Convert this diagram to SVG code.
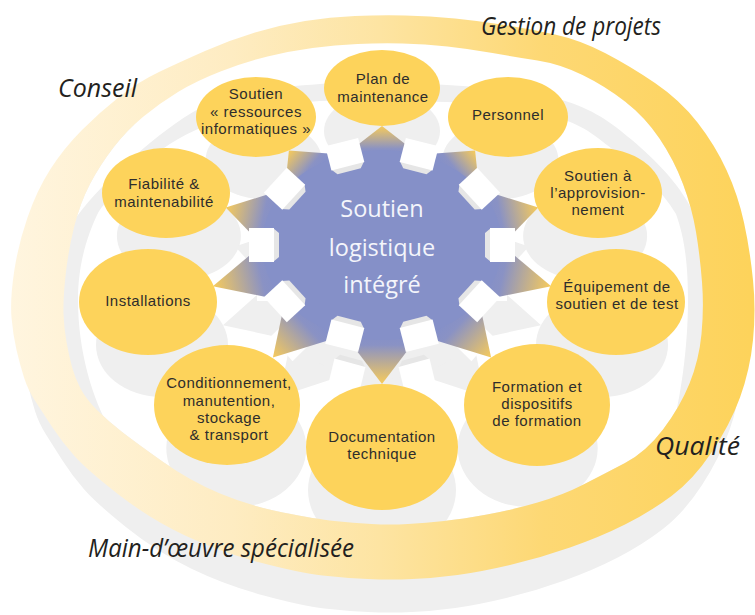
<svg xmlns="http://www.w3.org/2000/svg" width="755" height="615" viewBox="0 0 755 615">
<style>
.sh{fill:#efefef}
.nd{fill:#fdd35b}
.t{font-family:"Liberation Sans",Arial,sans-serif;font-size:15px;letter-spacing:0.5px;fill:#2e2d2c;text-anchor:middle}
.it{font-family:"Open Sans","Noto Sans","DejaVu Sans",sans-serif;font-style:italic;font-size:25px;fill:#231f20}
.c{font-family:"Open Sans","Noto Sans","DejaVu Sans",sans-serif;font-size:23.5px;fill:#f4f5fb;text-anchor:middle}
</style>
<defs>
<linearGradient id="ringGrad" gradientUnits="userSpaceOnUse" x1="10" y1="0" x2="750" y2="0">
<stop offset="0" stop-color="#fff5df"/>
<stop offset="0.3" stop-color="#feecc2"/>
<stop offset="0.5" stop-color="#fde4a2"/>
<stop offset="0.72" stop-color="#fdd874"/>
<stop offset="1" stop-color="#fdd35b"/>
</linearGradient>
<linearGradient id="gBase" gradientUnits="userSpaceOnUse">
<stop offset="0" stop-color="#8590c8"/>
<stop offset="0.2" stop-color="#8a92c4"/>
<stop offset="1" stop-color="#f7cb5b"/>
</linearGradient>
<linearGradient id="g0" href="#gBase" gradientUnits="userSpaceOnUse" x1="382" y1="154.7" x2="382" y2="126"/>
<linearGradient id="g1" href="#gBase" gradientUnits="userSpaceOnUse" x1="449.1" y1="171.9" x2="475.1" y2="150.4"/>
<linearGradient id="g2" href="#gBase" gradientUnits="userSpaceOnUse" x1="490.5" y1="217" x2="538.3" y2="207.4"/>
<linearGradient id="g3" href="#gBase" gradientUnits="userSpaceOnUse" x1="490.5" y1="273" x2="551.2" y2="286.2"/>
<linearGradient id="g4" href="#gBase" gradientUnits="userSpaceOnUse" x1="449.1" y1="318.1" x2="491.1" y2="357.6"/>
<linearGradient id="g5" href="#gBase" gradientUnits="userSpaceOnUse" x1="382" y1="335.3" x2="382" y2="384"/>
<linearGradient id="g6" href="#gBase" gradientUnits="userSpaceOnUse" x1="314.9" y1="318.1" x2="272.9" y2="357.6"/>
<linearGradient id="g7" href="#gBase" gradientUnits="userSpaceOnUse" x1="273.5" y1="273" x2="212.8" y2="286.2"/>
<linearGradient id="g8" href="#gBase" gradientUnits="userSpaceOnUse" x1="273.5" y1="217" x2="225.7" y2="207.4"/>
<linearGradient id="g9" href="#gBase" gradientUnits="userSpaceOnUse" x1="314.9" y1="171.9" x2="288.9" y2="150.4"/>
<path id="outerP" d="M11.5 317.5 Q10 300 14 272.5 Q18 245 27.5 217.5 Q37 190 50.5 169 Q64 148 82 130 Q100 112 119 97 Q138 82 159 72 Q180 62 205 51 Q230 40 255 32.5 Q280 25 305 21 Q330 17 355 16 Q380 15 405 15.5 Q430 16 455 18.5 Q480 21 505 25 Q530 29 555 34.5 Q580 40 605 53 Q630 66 655 83 Q680 100 697.5 122.5 Q715 145 726.5 170 Q738 195 744 222.5 Q750 250 753 280 Q756 310 753 340 Q750 370 740 397.5 Q730 425 711.5 452.5 Q693 480 671.5 496 Q650 512 625 524.5 Q600 537 570 547.5 Q540 558 510 565 Q480 572 457.5 575 Q435 578 412.5 579 Q390 580 367.5 579 Q345 578 322.5 575.5 Q300 573 260 562.5 Q220 552 185 535.5 Q150 519 118.5 494.5 Q87 470 74.5 456 Q62 442 52.5 427.5 Q43 413 35.5 401.5 Q28 390 24 377.5 Q20 365 16.5 350 Q13 335 11.5 317.5 Z"/>
<path id="innerP" d="M63.5 314 Q63 300 65.5 276 Q68 252 74 227.5 Q80 203 90 184 Q100 165 113.5 147.5 Q127 130 143.5 116.5 Q160 103 178 92 Q196 81 220.5 71.5 Q245 62 267.5 56.5 Q290 51 312.5 48 Q335 45 357.5 44 Q380 43 402.5 43.5 Q425 44 447.5 46.5 Q470 49 492.5 53 Q515 57 537.5 60.5 Q560 64 582.5 75 Q605 86 625 101.5 Q645 117 659.5 138.5 Q674 160 683 184 Q692 208 696 232 Q700 256 702 282 Q704 308 701.5 334 Q699 360 689.5 383.5 Q680 407 663 429.5 Q646 452 625 463 Q604 474 583.5 484.5 Q563 495 537.5 502.5 Q512 510 487 514.5 Q462 519 444 521 Q426 523 408 524 Q390 525 371.5 524 Q353 523 334.5 521 Q316 519 283 512.5 Q250 506 220 493.5 Q190 481 162.5 461.5 Q135 442 121.5 431.5 Q108 421 97 410 Q86 399 80.5 388.5 Q75 378 72 367 Q69 356 66.5 342 Q64 328 63.5 314 Z"/>
<g id="arrows">
<polygon id="ar0" points="344.9,154.7 382,126 419.1,154.7"/>
<polygon id="ar1" points="419.1,154.7 475.1,150.4 479.1,189.1"/>
<polygon id="ar2" points="479.1,189.1 538.3,207.4 502,245"/>
<polygon id="ar3" points="502,245 551.2,286.2 479.1,300.9"/>
<polygon id="ar4" points="479.1,300.9 491.1,357.6 419.1,335.3"/>
<polygon id="ar5" points="419.1,335.3 382,384 344.9,335.3"/>
<polygon id="ar6" points="344.9,335.3 272.9,357.6 284.9,300.9"/>
<polygon id="ar7" points="284.9,300.9 212.8,286.2 262,245"/>
<polygon id="ar8" points="262,245 225.7,207.4 284.9,189.1"/>
<polygon id="ar9" points="284.9,189.1 288.9,150.4 344.9,154.7"/>
</g>
<g id="tile">
<polygon points="-17,11 17,11 12,17 -12,17" fill="#e6e6e6"/>
<rect x="-17" y="-13" width="34" height="25" fill="#ffffff"/>
</g>
<g id="tiles">
<use href="#tile" transform="translate(419.1 154.7) rotate(14.4)"/>
<use href="#tile" transform="translate(479.1 189.1) rotate(47.5)"/>
<use href="#tile" transform="translate(502 245) rotate(90)"/>
<use href="#tile" transform="translate(479.1 300.9) rotate(132.5)"/>
<use href="#tile" transform="translate(419.1 335.3) rotate(165.6)"/>
<use href="#tile" transform="translate(344.9 335.3) rotate(194.4)"/>
<use href="#tile" transform="translate(284.9 300.9) rotate(227.5)"/>
<use href="#tile" transform="translate(262 245) rotate(270)"/>
<use href="#tile" transform="translate(284.9 189.1) rotate(312.5)"/>
<use href="#tile" transform="translate(344.9 154.7) rotate(345.6)"/>
</g>
</defs>
<rect width="755" height="615" fill="#ffffff"/>
<g id="ring-shadow">
<use href="#outerP" class="sh" transform="translate(385 33) scale(0.97 1) translate(-385 0)"/>
<use href="#innerP" fill="#ffffff"/>
<path class="sh" d="M112 432 C80 400 56 350 56 300 C56 262 64 232 78 215 C101.7 183 159.7 129.8 200 108 C240.3 86.2 278.8 87.8 320 84 C361.2 80.2 406.7 82.3 447 85 C487.3 87.7 531.2 90.8 562 100 C592.8 109.2 610.3 121.7 632 140 C653.7 158.3 679 183.3 692 210 C704 235 712 270 712 305 C712 350 700 395 672 430 C680 400 688 350 688 300 C688 262 684 236 676 214 C660 188 640 170 620 155 C600 140 585 125 558 118 C520 108 485 103 447 102 C405 101 360 99 320 101 C280 103 240 112 205 126 C180 136 158 150 140 168 C120 187 103 203 97 215 C88 235 78 262 78 300 C78 350 92 400 112 432 Z"/>
</g>
<g id="node-shadows" class="sh">
<ellipse cx="382" cy="131" rx="58" ry="38"/>
<ellipse cx="263.6" cy="160" rx="58" ry="39"/>
<ellipse cx="500.4" cy="160" rx="58" ry="39"/>
<ellipse cx="178.9" cy="236" rx="62" ry="44"/>
<ellipse cx="585.1" cy="236" rx="62" ry="44"/>
<ellipse cx="162" cy="345" rx="66" ry="52"/>
<ellipse cx="602" cy="345" rx="66" ry="52"/>
<ellipse cx="236.3" cy="448" rx="70" ry="59"/>
<ellipse cx="527.7" cy="448" rx="70" ry="59"/>
<ellipse cx="382" cy="490" rx="74" ry="62"/>
<g transform="translate(382 284) scale(0.94 1) translate(-382 -245)">
<use href="#arrows"/>
<ellipse cx="382" cy="245" rx="120" ry="95"/>
<use href="#tiles"/>
</g>
</g>
<path id="ring-face" fill="url(#ringGrad)" fill-rule="evenodd" d="M11.5 317.5 Q10 300 14 272.5 Q18 245 27.5 217.5 Q37 190 50.5 169 Q64 148 82 130 Q100 112 119 97 Q138 82 159 72 Q180 62 205 51 Q230 40 255 32.5 Q280 25 305 21 Q330 17 355 16 Q380 15 405 15.5 Q430 16 455 18.5 Q480 21 505 25 Q530 29 555 34.5 Q580 40 605 53 Q630 66 655 83 Q680 100 697.5 122.5 Q715 145 726.5 170 Q738 195 744 222.5 Q750 250 753 280 Q756 310 753 340 Q750 370 740 397.5 Q730 425 711.5 452.5 Q693 480 671.5 496 Q650 512 625 524.5 Q600 537 570 547.5 Q540 558 510 565 Q480 572 457.5 575 Q435 578 412.5 579 Q390 580 367.5 579 Q345 578 322.5 575.5 Q300 573 260 562.5 Q220 552 185 535.5 Q150 519 118.5 494.5 Q87 470 74.5 456 Q62 442 52.5 427.5 Q43 413 35.5 401.5 Q28 390 24 377.5 Q20 365 16.5 350 Q13 335 11.5 317.5 Z M63.5 314 Q63 300 65.5 276 Q68 252 74 227.5 Q80 203 90 184 Q100 165 113.5 147.5 Q127 130 143.5 116.5 Q160 103 178 92 Q196 81 220.5 71.5 Q245 62 267.5 56.5 Q290 51 312.5 48 Q335 45 357.5 44 Q380 43 402.5 43.5 Q425 44 447.5 46.5 Q470 49 492.5 53 Q515 57 537.5 60.5 Q560 64 582.5 75 Q605 86 625 101.5 Q645 117 659.5 138.5 Q674 160 683 184 Q692 208 696 232 Q700 256 702 282 Q704 308 701.5 334 Q699 360 689.5 383.5 Q680 407 663 429.5 Q646 452 625 463 Q604 474 583.5 484.5 Q563 495 537.5 502.5 Q512 510 487 514.5 Q462 519 444 521 Q426 523 408 524 Q390 525 371.5 524 Q353 523 334.5 521 Q316 519 283 512.5 Q250 506 220 493.5 Q190 481 162.5 461.5 Q135 442 121.5 431.5 Q108 421 97 410 Q86 399 80.5 388.5 Q75 378 72 367 Q69 356 66.5 342 Q64 328 63.5 314 Z"/>
<g id="ring-labels" class="it">
<text x="58" y="97" textLength="79" lengthAdjust="spacingAndGlyphs">Conseil</text>
<text x="481" y="35" textLength="180" lengthAdjust="spacingAndGlyphs">Gestion de projets</text>
<text x="655" y="455" textLength="85" lengthAdjust="spacingAndGlyphs">Qualité</text>
<text x="88" y="557" textLength="266" lengthAdjust="spacingAndGlyphs">Main-d’œuvre spécialisée</text>
</g>
<g id="connectors">
<use href="#ar0" fill="url(#g0)"/>
<use href="#ar1" fill="url(#g1)"/>
<use href="#ar2" fill="url(#g2)"/>
<use href="#ar3" fill="url(#g3)"/>
<use href="#ar4" fill="url(#g4)"/>
<use href="#ar5" fill="url(#g5)"/>
<use href="#ar6" fill="url(#g6)"/>
<use href="#ar7" fill="url(#g7)"/>
<use href="#ar8" fill="url(#g8)"/>
<use href="#ar9" fill="url(#g9)"/>
</g>
<g id="node-center">
<ellipse cx="382" cy="245" rx="120" ry="95" fill="#8590c8"/>
<use href="#tiles"/>
<text class="c"><tspan x="382" y="217">Soutien</tspan><tspan x="382" y="255.5">logistique</tspan><tspan x="382" y="292.5">intégré</tspan></text>
</g>
<g id="node-plan"><ellipse class="nd" cx="382" cy="88" rx="58" ry="38"/><text class="t"><tspan x="383" y="84">Plan de</tspan><tspan x="383" y="102">maintenance</tspan></text></g>
<g id="node-ressources"><ellipse class="nd" cx="256" cy="117" rx="60" ry="40"/><text class="t"><tspan x="256" y="99">Soutien</tspan><tspan x="256" y="116.5">« ressources</tspan><tspan x="256" y="133.5">informatiques »</tspan></text></g>
<g id="node-personnel"><ellipse class="nd" cx="508" cy="117" rx="60" ry="40"/><text class="t"><tspan x="508" y="120">Personnel</tspan></text></g>
<g id="node-fiabilite"><ellipse class="nd" cx="166" cy="193" rx="64" ry="45"/><text class="t"><tspan x="164" y="189">Fiabilité &amp;</tspan><tspan x="164" y="206.5">maintenabilité</tspan></text></g>
<g id="node-approvisionnement"><ellipse class="nd" cx="598" cy="193" rx="64" ry="45"/><text class="t"><tspan x="598" y="181">Soutien à</tspan><tspan x="598" y="198">l’approvision-</tspan><tspan x="598" y="215">nement</tspan></text></g>
<g id="node-installations"><ellipse class="nd" cx="148" cy="302" rx="69" ry="53"/><text class="t"><tspan x="148" y="306">Installations</tspan></text></g>
<g id="node-equipement"><ellipse class="nd" cx="616" cy="302" rx="69" ry="53"/><text class="t"><tspan x="617" y="291.5">Équipement de</tspan><tspan x="617" y="309">soutien et de test</tspan></text></g>
<g id="node-conditionnement"><ellipse class="nd" cx="227" cy="405" rx="73" ry="60"/><text class="t"><tspan x="229" y="388">Conditionnement,</tspan><tspan x="229" y="405.5">manutention,</tspan><tspan x="229" y="422.5">stockage</tspan><tspan x="229" y="440">&amp; transport</tspan></text></g>
<g id="node-formation"><ellipse class="nd" cx="537" cy="405" rx="73" ry="61"/><text class="t"><tspan x="537" y="391.5">Formation et</tspan><tspan x="537" y="408.5">dispositifs</tspan><tspan x="537" y="426">de formation</tspan></text></g>
<g id="node-documentation"><ellipse class="nd" cx="382" cy="447" rx="76" ry="63"/><text class="t"><tspan x="382" y="441.5">Documentation</tspan><tspan x="382" y="458.5">technique</tspan></text></g>
</svg>
